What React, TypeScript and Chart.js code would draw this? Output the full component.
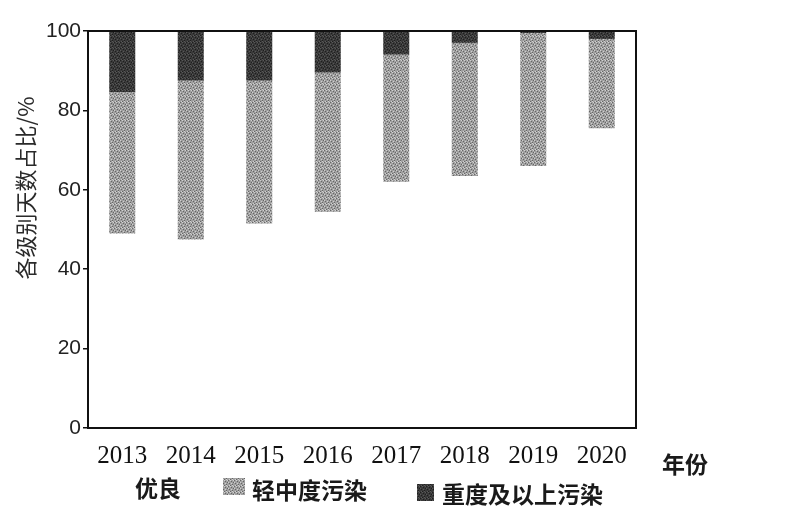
import React, { useEffect, useRef } from "react";
import { Chart, registerables } from "chart.js";

Chart.register(...registerables);

const years = ["2013", "2014", "2015", "2016", "2017", "2018", "2019", "2020"];
const goodDays = [49, 47.5, 51.5, 54.5, 62, 63.5, 66, 75.5];
const lightModerate = [35.5, 40, 36, 35, 32, 33.5, 33.5, 22.5];
const heavyAbove = [15.5, 12.5, 12.5, 10.5, 6, 3, 0.5, 2];
const yTicks = [0, 20, 40, 60, 80, 100];

const labelGood = "优良";
const labelLight = "轻中度污染";
const labelHeavy = "重度及以上污染";
const yTitle = "各级别天数占比/%";
const xUnit = "年份";

function makePattern(base: string, dark: string, light: string): CanvasPattern | string {
  const c = document.createElement("canvas");
  c.width = 6;
  c.height = 6;
  const g = c.getContext("2d");
  if (!g) return base;
  g.fillStyle = base;
  g.fillRect(0, 0, 6, 6);
  g.fillStyle = dark;
  const darkDots = [[0, 0], [3, 1], [1, 3], [4, 4], [5, 2], [2, 5]];
  darkDots.forEach(([x, y]) => g.fillRect(x, y, 1, 1));
  g.fillStyle = light;
  const lightDots = [[2, 0], [5, 0], [0, 2], [3, 3], [1, 5], [4, 5]];
  lightDots.forEach(([x, y]) => g.fillRect(x, y, 1, 1));
  const p = g.createPattern(c, "repeat");
  return p || base;
}

export default function App() {
  const ref = useRef<HTMLCanvasElement | null>(null);

  useEffect(() => {
    if (!ref.current) return;
    const grayPat = makePattern("#a0a0a0", "#666666", "#d0d0d0");
    const darkPat = makePattern("#3a3a3a", "#1e1e1e", "#585858");

    const overlay = {
      id: "overlay",
      afterDraw(chart: any) {
        const { ctx, chartArea } = chart;
        const { left, right, top, bottom } = chartArea;
        ctx.save();
        // frame
        ctx.strokeStyle = "#111";
        ctx.lineWidth = 2;
        ctx.strokeRect(left, top, right - left, bottom - top);
        // y title
        ctx.fillStyle = "#2a2a2a";
        ctx.font = "22px 'Noto Sans CJK SC'";
        ctx.textAlign = "center";
        ctx.textBaseline = "middle";
        ctx.translate(26, 188);
        ctx.rotate(-Math.PI / 2);
        ctx.fillText(yTitle, 0, 0);
        ctx.restore();

        ctx.save();
        ctx.fillStyle = "#1a1a1a";
        ctx.textBaseline = "middle";
        ctx.textAlign = "left";
        ctx.font = "bold 23px 'Noto Sans CJK SC'";
        ctx.fillText(xUnit, 662, 464);
        // legend
        ctx.fillText(labelGood, 135, 488);
        ctx.fillStyle = grayPat as any;
        ctx.fillRect(223, 478, 22, 17);
        ctx.fillStyle = "#1a1a1a";
        ctx.fillText(labelLight, 252, 490);
        ctx.fillStyle = darkPat as any;
        ctx.fillRect(417, 484, 17, 17);
        ctx.fillStyle = "#1a1a1a";
        ctx.fillText(labelHeavy, 442, 494);
        ctx.restore();
      },
    };

    const chart = new Chart(ref.current, {
      type: "bar",
      data: {
        labels: years,
        datasets: [
          {
            label: labelGood,
            data: goodDays,
            backgroundColor: "rgba(255,255,255,0)",
            borderWidth: 0,
          },
          {
            label: labelLight,
            data: lightModerate,
            backgroundColor: grayPat as any,
            borderWidth: 0,
          },
          {
            label: labelHeavy,
            data: heavyAbove,
            backgroundColor: darkPat as any,
            borderWidth: 0,
          },
        ],
      },
      options: {
        animation: false,
        responsive: false,
        maintainAspectRatio: false,
        layout: { padding: { top: 31, right: 155, bottom: 0, left: 0 } },
        datasets: { bar: { barPercentage: 0.38, categoryPercentage: 1 } },
        plugins: {
          legend: { display: false },
          tooltip: { enabled: false },
        },
        scales: {
          x: {
            stacked: true,
            grid: { display: false },
            border: { display: true, color: "#111", width: 2 },
            ticks: {
              color: "#111",
              padding: 5,
              font: { family: "'Liberation Serif', serif", size: 25 },
              maxRotation: 0,
            },
            afterFit: (scale: any) => {
              scale.height = 515 - 428;
            },
          },
          y: {
            stacked: true,
            min: 0,
            max: 100,
            afterBuildTicks: (scale: any) => {
              scale.ticks = yTicks.map((v) => ({ value: v }));
            },
            grid: {
              drawOnChartArea: false,
              drawTicks: true,
              tickLength: 5,
              color: "#111",
              lineWidth: 1.5,
            },
            border: { display: true, color: "#111", width: 2 },
            ticks: {
              color: "#222",
              padding: 2,
              font: { family: "'Liberation Sans', Arial, sans-serif", size: 21 },
            },
            afterFit: (scale: any) => {
              scale.width = 88;
            },
          },
        },
      },
      plugins: [overlay],
    });
    return () => chart.destroy();
  }, []);

  return (
    <div style={{ position: "fixed", left: 0, top: 0, width: 791, height: 515, background: "#fff" }}>
      <canvas ref={ref} width={791} height={515} style={{ width: 791, height: 515, display: "block" }} />
    </div>
  );
}
